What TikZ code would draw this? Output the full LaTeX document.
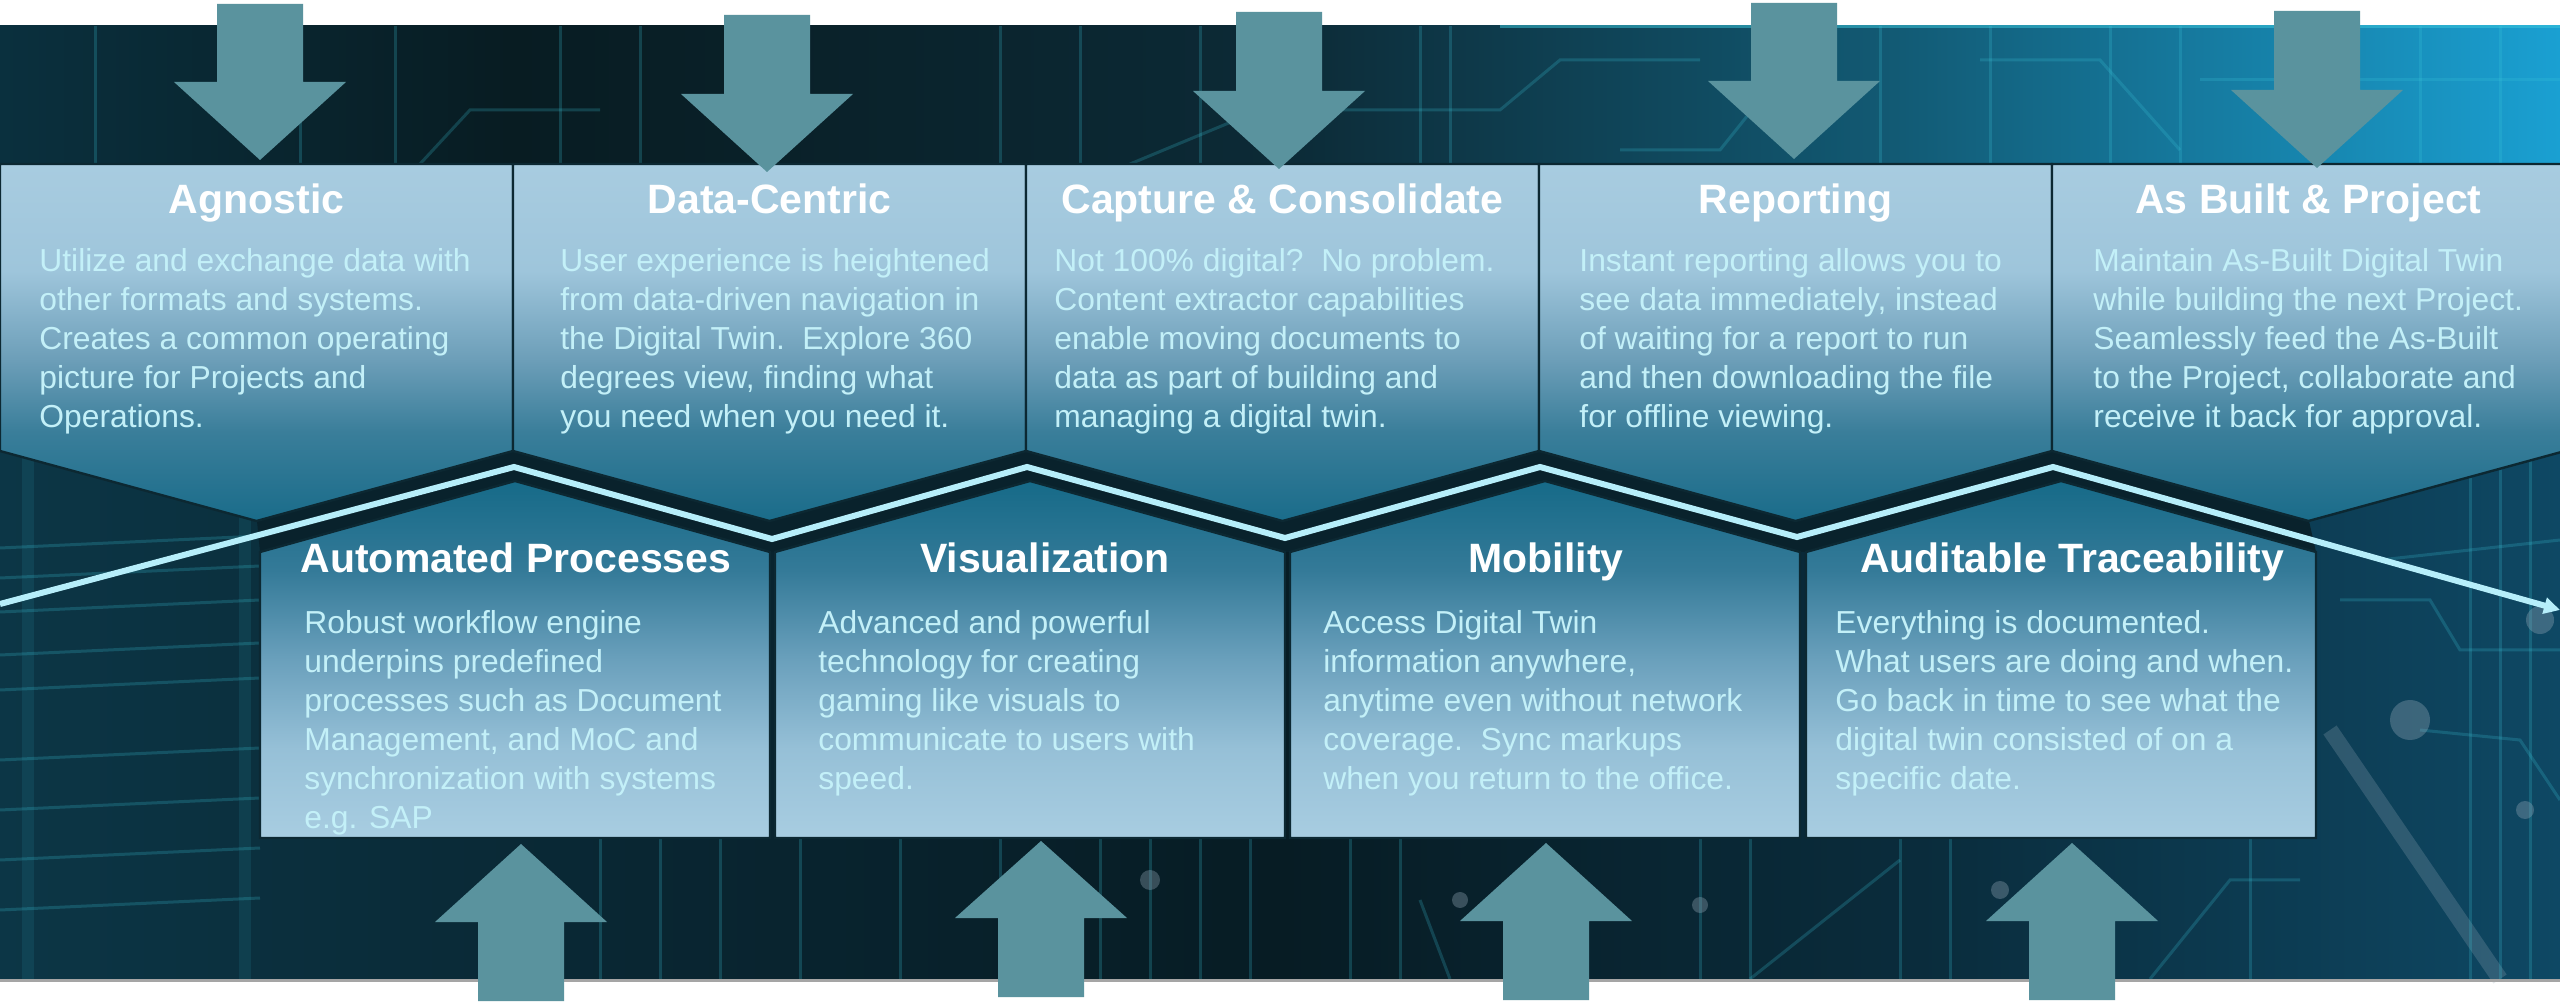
\documentclass[tikz,border=0pt]{standalone}
\usepackage{fontspec}
\setmainfont{Liberation Sans}
\usetikzlibrary{arrows.meta}

\definecolor{tb1}{RGB}{168,204,224}
\definecolor{tb2}{RGB}{158,197,219}
\definecolor{tb3}{RGB}{108,158,184}
\definecolor{tb4}{RGB}{58,126,154}
\definecolor{tb5}{RGB}{26,108,138}
\definecolor{bb1}{RGB}{22,106,136}
\definecolor{bb2}{RGB}{52,122,152}
\definecolor{bb3}{RGB}{106,160,188}
\definecolor{bb4}{RGB}{150,192,215}
\definecolor{bb5}{RGB}{168,205,225}
\definecolor{bg1}{RGB}{12,54,70}
\definecolor{bg2}{RGB}{9,38,50}
\definecolor{bg3}{RGB}{7,28,36}
\definecolor{bg4}{RGB}{10,44,60}
\definecolor{bg5}{RGB}{14,72,100}
\definecolor{ts1}{RGB}{10,48,62}
\definecolor{ts2}{RGB}{8,28,34}
\definecolor{ts3}{RGB}{12,42,54}
\definecolor{ts4}{RGB}{18,90,116}
\definecolor{ts5}{RGB}{26,160,210}
\definecolor{arrowc}{RGB}{90,147,158}
\definecolor{linec}{RGB}{182,238,250}
\definecolor{bodyc}{RGB}{195,240,248}
\definecolor{darkedge}{RGB}{12,40,50}
\definecolor{bandc}{RGB}{9,34,44}
\definecolor{circc}{RGB}{60,200,220}
\definecolor{dotc}{RGB}{150,170,185}
\definecolor{rulec}{RGB}{165,165,165}

\pgfdeclareverticalshading{topboxsh}{100bp}{color(0bp)=(tb5); color(25bp)=(tb5); color(37.5bp)=(tb4); color(47.5bp)=(tb3); color(60bp)=(tb2); color(75bp)=(tb1); color(100bp)=(tb1)}
\pgfdeclareverticalshading{botboxsh}{100bp}{color(0bp)=(bb5); color(25bp)=(bb5); color(37.5bp)=(bb4); color(50bp)=(bb3); color(62.5bp)=(bb2); color(75bp)=(bb1); color(100bp)=(bb1)}
\pgfdeclarehorizontalshading{bgsh}{100bp}{color(0bp)=(bg1); color(25bp)=(bg1); color(37.5bp)=(bg2); color(50bp)=(bg3); color(62.5bp)=(bg4); color(75bp)=(bg5); color(100bp)=(bg5)}
\pgfdeclarehorizontalshading{stripsh}{100bp}{color(0bp)=(ts1); color(25bp)=(ts1); color(35bp)=(ts2); color(50bp)=(ts3); color(62bp)=(ts4); color(75bp)=(ts5); color(100bp)=(ts5)}

\newcommand{\arrdn}[4]{\fill[bigarrow] (#1-43,#2) -- (#1+43,#2) -- (#1+43,#3) -- (#1+86,#3) -- (#1,#4) -- (#1-86,#3) -- (#1-43,#3) -- cycle;}
\newcommand{\arrup}[4]{\fill[bigarrow] (#1-43,#2) -- (#1+43,#2) -- (#1+43,#3) -- (#1+86,#3) -- (#1,#4) -- (#1-86,#3) -- (#1-43,#3) -- cycle;}
\newcommand{\topchev}[1]{\shade[topbox] (#1,164) -- (#1+513,164) -- (#1+513,451) -- (#1+256.5,521) -- (#1,451) -- cycle;}
\newcommand{\botchev}[1]{\shade[botbox] (#1,838) -- (#1,552) -- (#1+255,481) -- (#1+510,552) -- (#1+510,838) -- cycle;}

\begin{document}
\begin{tikzpicture}[x=0.5pt,y=-0.5pt,
  topbox/.style={shading=topboxsh, draw=darkedge, line width=1.2pt},
  botbox/.style={shading=botboxsh, draw=darkedge, line width=1.2pt},
  bigarrow/.style={fill=arrowc},
  flowline/.style={draw=linec, line width=3pt, line join=miter, -{Triangle[length=8pt,width=8pt]}},
  circuit/.style={draw=circc, line width=1.5pt, opacity=0.22},
  glow/.style={draw=circc, line width=6pt, opacity=0.10},
  spot/.style={fill=dotc, opacity=0.35},
  titletxt/.style={text=white, font=\fontsize{20.5}{24}\selectfont\bfseries, inner sep=0pt, anchor=base},
  bodytxt/.style={text=bodyc, font=\fontsize{15.9}{19.4}\selectfont, align=left, inner sep=0pt, anchor=base west}]
\useasboundingbox (0,0) rectangle (2560,1004);
\clip (0,0) rectangle (2560,1004);
\fill[white] (0,0) rectangle (2560,1004);

% background
\shade[shading=bgsh] (0,26) rectangle (2560,979);
\shade[shading=stripsh] (0,26) rectangle (2560,164);
\draw[draw=circc, line width=1.5pt, opacity=0.5] (1500,27) -- (2560,27);

% circuit decoration
\foreach \xx in {95,300,395,560,640,1000,1080,1200,1420,1450,1880,1990,2110,2180,2420,2500}
  \draw[circuit] (\xx,26) -- (\xx,164);
\draw[circuit] (420,164) -- (470,110) -- (600,110);
\draw[circuit] (1130,164) -- (1260,110) -- (1500,110) -- (1560,60) -- (1700,60);
\draw[circuit] (1980,60) -- (2100,60) -- (2180,150);
\draw[circuit] (2200,80) -- (2560,80);
\draw[circuit] (1620,150) -- (1720,150) -- (1760,100);
\foreach \yy in {548,578,612,655,690,760,810,860,910}
  \draw[circuit] (0,\yy) -- (260,\yy-12);
\draw[glow] (28,450) -- (28,979);
\draw[glow] (245,450) -- (245,979);
\foreach \xx in {600,660,720,800,900,1000,1100,1150,1200,1250,1350,1400,1700,1750,1900,1950,2250}
  \draw[circuit] (\xx,838) -- (\xx,979);
\draw[circuit] (1750,979) -- (1900,860);
\draw[circuit] (1450,979) -- (1420,900);
\draw[circuit] (2150,979) -- (2230,880) -- (2300,880);
\fill[spot] (1460,900) circle (8);
\fill[spot] (1700,905) circle (8);
\fill[spot] (2000,890) circle (9);
\fill[spot] (1150,880) circle (10);
\draw[draw=dotc, line width=8pt, opacity=0.25] (2330,730) -- (2500,979);
\draw[circuit] (2340,600) -- (2430,600) -- (2460,650) -- (2560,650);
\draw[circuit] (2420,730) -- (2520,740) -- (2560,800);
\draw[circuit] (2380,560) -- (2560,540);
\foreach \xx in {2470,2500,2530}
  \draw[circuit] (\xx,450) -- (\xx,979);
\fill[spot] (2540,620) circle (14);
\fill[spot] (2410,720) circle (20);
\fill[spot] (2525,810) circle (9);

% bottom rule
\fill[rulec] (0,979) rectangle (2560,982);

% dark band between rows
\fill[bandc] (257,521) -- (513,451) -- (770,521) -- (1026,451) -- (1283,521) -- (1539,451) -- (1796,521) -- (2052,451) -- (2309,521)
  -- (2316,552) -- (2061,481) -- (1806,552) -- (1800,552) -- (1545,481) -- (1290,552) -- (1285,552) -- (1030,481)
  -- (775,552) -- (770,552) -- (515,481) -- (260,552) -- cycle;

% flow line
\coordinate (l0) at (0,604);
\coordinate (l1) at (514,467);
\coordinate (l2) at (772,539);
\coordinate (l3) at (1027,467);
\coordinate (l4) at (1285,538);
\coordinate (l5) at (1540,467);
\coordinate (l6) at (1797,537);
\coordinate (l7) at (2053,467);
\coordinate (l8) at (2560,610);
\draw[flowline] (l0) -- (l1) -- (l2) -- (l3) -- (l4) -- (l5) -- (l6) -- (l7) -- (l8);

% top chevrons
\topchev{0}
\topchev{513}
\topchev{1026}
\topchev{1539}
\topchev{2052}

% bottom pentagons
\botchev{260}
\botchev{775}
\botchev{1290}
\botchev{1806}

% arrows
\arrdn{260}{4}{82}{160}
\arrdn{767}{15}{94}{172}
\arrdn{1279}{12}{91}{169}
\arrdn{1794}{3}{81}{159}
\arrdn{2317}{11}{90}{168}
\arrup{521}{1001}{922}{844}
\arrup{1041}{997}{918}{841}
\arrup{1546}{1000}{921}{843}
\arrup{2072}{1000}{921}{843}

% texts, top row (anchor at last line baseline)
\node[titletxt] (t1) at (256.5,214) {Agnostic};
\node[bodytxt] (d1) at (39,427.2) {Utilize and exchange data with\\other formats and systems.\\Creates a common operating\\picture for Projects and\\Operations.};
\node[titletxt] (t2) at (769.5,214) {Data-Centric};
\node[bodytxt] (d2) at (560,427.2) {User experience is heightened\\from data-driven navigation in\\the Digital Twin.\ \ Explore 360\\degrees view, finding what\\you need when you need it.};
\node[titletxt] (t3) at (1282.5,214) {Capture \& Consolidate};
\node[bodytxt] (d3) at (1054,427.2) {Not 100\% digital?\ \ No problem.\\Content extractor capabilities\\enable moving documents to\\data as part of building and\\managing a digital twin.};
\node[titletxt] (t4) at (1795.5,214) {Reporting};
\node[bodytxt] (d4) at (1579,427.2) {Instant reporting allows you to\\see data immediately, instead\\of waiting for a report to run\\and then downloading the file\\for offline viewing.};
\node[titletxt] (t5) at (2308.5,214) {As Built \& Project};
\node[bodytxt] (d5) at (2093,427.2) {Maintain As-Built Digital Twin\\while building the next Project.\\Seamlessly feed the As-Built\\to the Project, collaborate and\\receive it back for approval.};

% texts, bottom row
\node[titletxt] (t6) at (516,573) {Automated Processes};
\node[bodytxt] (d6) at (304,828) {Robust workflow engine\\underpins predefined\\processes such as Document\\Management, and MoC and\\synchronization with systems\\e.g. SAP};
\node[titletxt] (t7) at (1045,573) {Visualization};
\node[bodytxt] (d7) at (818,789.2) {Advanced and powerful\\technology for creating\\gaming like visuals to\\communicate to users with\\speed.};
\node[titletxt] (t8) at (1546,573) {Mobility};
\node[bodytxt] (d8) at (1323,789.2) {Access Digital Twin\\information anywhere,\\anytime even without network\\coverage.\ \ Sync markups\\when you return to the office.};
\node[titletxt] (t9) at (2072,573) {Auditable Traceability};
\node[bodytxt] (d9) at (1835,789.2) {Everything is documented.\\What users are doing and when.\\Go back in time to see what the\\digital twin consisted of on a\\specific date.};
\end{tikzpicture}
\end{document}
